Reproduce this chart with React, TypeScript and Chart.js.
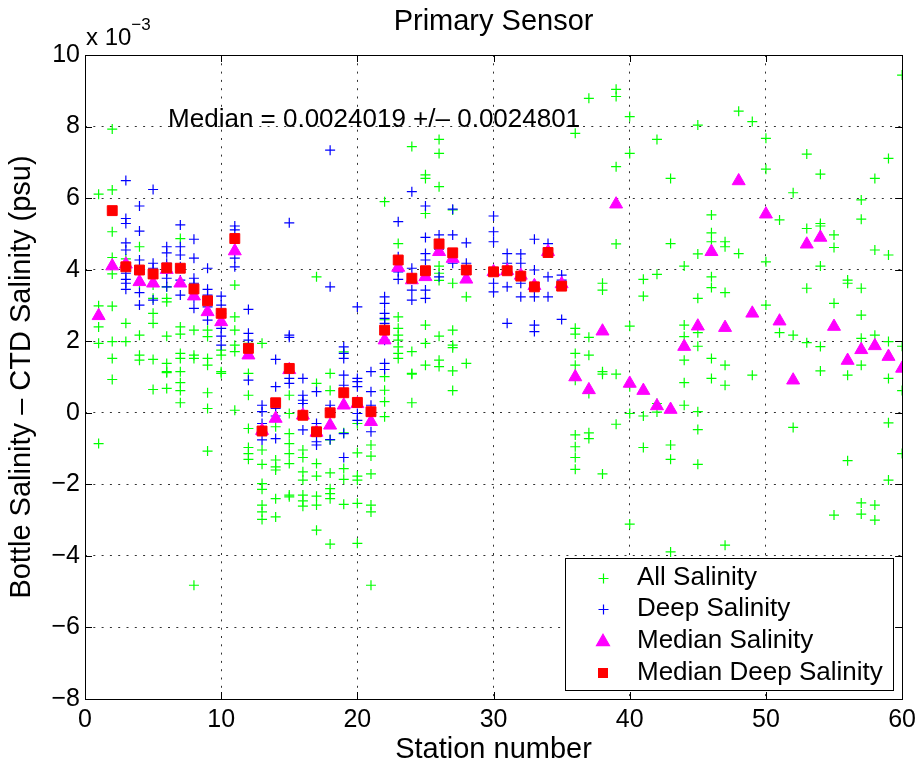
import React, { useEffect, useRef } from 'react';
import { Chart, registerables } from 'chart.js';

Chart.register(...registerables);

const FONT = "'Liberation Sans', Arial, Helvetica, sans-serif";

const TITLE = 'Primary Sensor';
const X_LABEL = 'Station number';
const Y_LABEL = 'Bottle Salinity \u2013 CTD Salinity (psu)';
const MEDIAN_TEXT = 'Median = 0.0024019 +/\u2013 0.0024801';
const EXP_BASE = 'x 10';
const EXP_POWER = '\u22123';
const SERIES_NAMES = ['All Salinity', 'Deep Salinity', 'Median Salinity', 'Median Deep Salinity'];
const X_RANGE = [0, 60];
const Y_RANGE = [-8, 10];
const X_STEP = 10;
const Y_STEP = 2;

// values in units of 1e-3 psu; row index = station number - 1
const allSalinity: number[][] = [
  [6.11, 2.99, 2.4, 1.94, -0.86],
  [7.93, 6.23, 5.06, 4.34, 3.88, 2.98, 1.99, 1.52, 0.93],
  [4.3, 2.5, 1.99],
  [4.64, 3.61, 2.17, 1.61, 1.47],
  [3.57, 3.2, 2.78, 2.5, 1.49, 0.65],
  [3.52, 3.2, 3.1, 2.14, 1.38, 1.15, 1.12, 0.68],
  [4.87, 2.4, 2.2, 1.66, 1.52, 1.15, 0.84, 0.62, 0.28],
  [2.31, 1.61, 1.52, -4.82],
  [2.31, 2.13, 1.52, 1.33, 0.56, 0.12, -1.07],
  [1.75, 1.61, 1.15, 1.1],
  [3.57, 2.68, 2.31, 1.89, 1.71, 0.07],
  [1.94, 1.1, 0.49, -0.44, -0.97, -1.14, -1.3],
  [1.94, -1.04, -1.44, -1.98, -2.14, -2.58, -2.77, -2.98],
  [-0.39, -1.32, -1.51, -1.6, -2.4, -2.91],
  [0.49, -0.02, -0.58, -0.86, -1.14, -1.42, -2.3, -2.35],
  [-1.04, -1.25, -1.65, -1.88, -2.3, -2.46, -2.61],
  [3.8, 0.82, -1.42, -1.77, -2.33, -2.58, -3.28],
  [1.1, 0.62, -0.76, -1.68, -2.12, -2.26, -2.4, -3.67],
  [1.7, -0.56, -1.56, -1.86, -2.56],
  [-0.3, -1.12, -1.77, -1.88, -2.53, -3.65],
  [-0.9, -1.21, -1.71, -2.58, -2.77, -4.82],
  [5.9, 2.6, 1.01, 0.63, 0.31, -0.11],
  [4.73, 2.68, 2.36, 2.17, 2.03, 1.84, 1.66, 1.52],
  [7.44, 1.71, 1.1, 1.08, 0.28],
  [6.65, 6.55, 5.57, 2.45, 1.94, 1.33],
  [7.64, 7.25, 6.32, 4.1, 3.9, 3.7, 2.14, 1.47, 1.29],
  [5.67, 3.62, 2.31, 1.89, 1.82, 1.17, 0.62],
  [3.24, 1.38],
  [],
  [],
  [],
  [],
  [],
  [],
  [],
  [7.81, 2.36, 2.2, 1.66, 1.33, 0.91, -0.62, -0.95, -1.25, -1.58],
  [8.79, 2.11, 1.61, 0.54, -0.56, -0.72],
  [3.62, 3.43, 1.15, 1.08, -1.71],
  [9.04, 8.84, 6.88, 4.72, 1.08, -0.32],
  [8.28, 7.25, 2.42, 0.73, -0.02, -3.11],
  [3.73, 3.26, -0.09, -0.97],
  [7.64, 3.87, 0.26, 0.02],
  [6.55, 4.73, -0.9, -1.3, -3.89],
  [4.1, 2.45, 2.13, 1.47, 0.84, 0.21],
  [8.04, 4.44, 3.2, 2.24, 1.86, 0.03, -0.47, -1.44],
  [5.53, 5.03, 4.78, 3.8, 3.5, 1.52, 0.96],
  [4.78, 4.64, 3.36, 1.33, 0.77, -3.7],
  [8.43, 4.45],
  [8.14, 1.05],
  [7.67, 6.81, 4.22, 3.01],
  [5.39, 2.24],
  [6.15, 2.17, -0.41],
  [7.23, 5.15, 3.48, 1.96],
  [6.67, 5.29, 5.22, 4.1, 1.85, 1.17],
  [4.97, 4.62, 3.06, -2.86],
  [3.71, 3.62, 1.05, -1.34],
  [5.95, 5.41, 3.48, 2.73, 2.08, 1.33, -2.52, -2.83],
  [6.55, 4.55, 2.17, -2.58, -3.0],
  [7.11, 4.41, 1.99, 0.96, -0.28, -1.88],
  [9.44, 1.86, 0.62, -1.14],
];

const deepSalinity: number[][] = [
  [],
  [],
  [6.49, 5.43, 5.29, 4.75, 4.55, 4.18, 3.9, 3.73, 3.62, 3.45],
  [5.78, 5.08, 4.27, 3.92, 3.36, 3.01],
  [6.24, 4.18, 4.04, 3.76, 3.15],
  [4.64, 4.47, 4.18, 3.94, 3.76, 3.52],
  [5.25, 4.64, 4.41, 4.08, 3.71, 3.29],
  [4.85, 4.32, 3.76, 3.62, 3.2, 2.92],
  [4.04, 3.45, 3.29, 2.96, 2.59],
  [3.26, 3.01, 2.78, 2.36, 2.14, 1.89],
  [5.22, 5.11, 4.32, 4.08],
  [2.89, 2.22, 2.03, 0.91],
  [0.21, 0.03, -0.3, -0.76],
  [1.49, 0.73, 0.12, -0.09, -0.72],
  [5.31, 2.17, 2.11, 0.96, 0.82],
  [0.96, 0.49, 0.35, 0.26, -0.48],
  [0.59, -0.3, -0.81, -0.9],
  [7.34, 3.52, 0.21, 0.06, -0.75],
  [1.84, 1.66, 1.52, 1.05, 0.77, -0.58, -1.25],
  [2.96, 0.96, 0.87, 0.73, -0.02, -0.21],
  [1.15, 0.59, 0.21, -0.53],
  [3.24, 3.06, 2.78, 2.64, 2.5, 2.03, 1.38, 1.21],
  [5.34, 4.36, 3.94, 3.73],
  [6.18, 4.04, 3.43, 3.15],
  [5.78, 4.9, 4.45, 4.27, 3.43, 3.2],
  [4.97, 4.57, 3.8],
  [5.69, 4.97, 4.18],
  [4.75, 4.18],
  [],
  [5.5, 5.06, 4.78, 3.62, 3.38],
  [4.45, 4.18, 3.52, 2.5],
  [4.44, 4.18, 3.62, 3.24],
  [4.85, 3.99, 3.24, 2.45, 2.27],
  [4.73, 3.8, 3.24],
  [3.85, 3.71, 2.61],
];

const medianSalinity: (number | null)[] = [
  2.71, 4.1, 4.15, 3.66, 3.62, 4.0, 3.62, 3.26, 2.82, 2.54,
  4.52, 1.61, -0.5, -0.16, 1.2, -0.07, -0.55, -0.35, 0.21, 0.25,
  -0.25, 2.03, 4.06, 3.71, 3.8, 4.5, 4.31, 3.73, null, 3.94,
  3.97, 3.84, 3.55, 4.5, 3.6, 1.0, 0.64, 2.28, 5.83, 0.82,
  0.62, 0.19, 0.09, 1.85, 2.42, 4.5, 2.38, 6.48, 2.78, 5.55,
  2.56, 0.91, 4.71, 4.9, 2.41, 1.46, 1.76, 1.87, 1.57, 1.24,
];

const medianDeepSalinity: (number | null)[] = [
  null, 5.65, 4.08, 3.99, 3.88, 4.05, 4.04, 3.46, 3.13, 2.78,
  4.87, 1.8, -0.51, 0.28, 1.24, -0.07, -0.53, 0.0, 0.56, 0.29,
  0.03, 2.31, 4.27, 3.76, 3.97, 4.72, 4.47, 3.99, null, 3.94,
  3.97, 3.82, 3.52, 4.48, 3.54,
];

const COLORS = ['#00ff00', '#0000ff', '#ff00ff', '#ff0000'];

const toPoints = (rows: number[][]) =>
  rows.flatMap((vals, i) => vals.map((v) => ({ x: i + 1, y: v })));
const toMedianPoints = (vals: (number | null)[]) =>
  vals.flatMap((v, i) => (v == null ? [] : [{ x: i + 1, y: v }]));

const fmt = (v: number) => (v < 0 ? '\u2212' + Math.abs(v) : String(v));

function drawMarker(ctx: CanvasRenderingContext2D, kind: number, x: number, y: number) {
  ctx.save();
  ctx.strokeStyle = COLORS[kind];
  ctx.fillStyle = COLORS[kind];
  ctx.lineWidth = 1.2;
  if (kind < 2) {
    const cx = Math.round(x) + 0.5;
    const cy = Math.round(y) + 0.5;
    ctx.beginPath();
    ctx.moveTo(cx - 5, cy);
    ctx.lineTo(cx + 5, cy);
    ctx.moveTo(cx, cy - 5);
    ctx.lineTo(cx, cy + 5);
    ctx.stroke();
  } else if (kind === 2) {
    const r = 7.5;
    ctx.beginPath();
    ctx.moveTo(x, y - r * 0.75 - 1);
    ctx.lineTo(x + r * 0.866, y + r * 0.75 - 1);
    ctx.lineTo(x - r * 0.866, y + r * 0.75 - 1);
    ctx.closePath();
    ctx.fill();
    ctx.stroke();
  } else {
    ctx.fillRect(Math.round(x) - 5, Math.round(y) - 5, 10, 10);
  }
  ctx.restore();
}

const framePlugin = {
  id: 'frame',
  afterDatasetsDraw(chart: any) {
    const { ctx, chartArea: a, scales } = chart;
    const xs = scales.x;
    const ys = scales.y;
    ctx.save();
    ctx.strokeStyle = '#000';
    ctx.lineWidth = 1;
    ctx.beginPath();
    for (let v = X_RANGE[0]; v <= X_RANGE[1]; v += X_STEP) {
      const px = Math.round(xs.getPixelForValue(v)) + 0.5;
      ctx.moveTo(px, a.bottom);
      ctx.lineTo(px, a.bottom - 7);
      ctx.moveTo(px, a.top);
      ctx.lineTo(px, a.top + 7);
    }
    for (let v = Y_RANGE[0]; v <= Y_RANGE[1]; v += Y_STEP) {
      const py = Math.round(ys.getPixelForValue(v)) + 0.5;
      ctx.moveTo(a.left, py);
      ctx.lineTo(a.left + 7, py);
      ctx.moveTo(a.right, py);
      ctx.lineTo(a.right - 7, py);
    }
    ctx.stroke();
    ctx.strokeRect(Math.round(a.left) + 0.5, Math.round(a.top) + 0.5, Math.round(a.right - a.left), Math.round(a.bottom - a.top));

    // annotation
    ctx.fillStyle = '#000';
    ctx.font = `26px ${FONT}`;
    ctx.textAlign = 'left';
    ctx.textBaseline = 'middle';
    ctx.fillText(MEDIAN_TEXT, xs.getPixelForValue(6.1), ys.getPixelForValue(8.2));

    // exponent label
    ctx.textBaseline = 'alphabetic';
    ctx.font = `24px ${FONT}`;
    ctx.fillText(EXP_BASE, a.left + 1, a.top - 10);
    const w = ctx.measureText(EXP_BASE).width;
    ctx.font = `17px ${FONT}`;
    ctx.fillText(EXP_POWER, a.left + 1 + w, a.top - 25);
    ctx.restore();
  },
  afterDraw(chart: any) {
    const { ctx, chartArea: a } = chart;
    const right = Math.round(a.right) - 9;
    const bottom = Math.round(a.bottom) - 9;
    const width = 328;
    const height = 132;
    const left = right - width;
    const top = bottom - height;
    ctx.save();
    ctx.fillStyle = '#fff';
    ctx.fillRect(left, top, width, height);
    ctx.strokeStyle = '#000';
    ctx.lineWidth = 1;
    ctx.strokeRect(left + 0.5, top + 0.5, width, height);
    ctx.font = `26px ${FONT}`;
    ctx.textAlign = 'left';
    ctx.textBaseline = 'middle';
    SERIES_NAMES.forEach((name, i) => {
      const cy = top + 19.5 + i * 31.7;
      drawMarker(ctx, i, left + 38, cy);
      ctx.fillStyle = '#000';
      ctx.fillText(name, left + 72, cy);
    });
    ctx.restore();
  },
};

export default function App() {
  const ref = useRef<HTMLCanvasElement | null>(null);

  useEffect(() => {
    if (!ref.current) return;
    Chart.defaults.font.family = FONT;
    Chart.defaults.color = '#000';
    const gridDash = [2, 6.3];
    const chart = new Chart(ref.current, {
      type: 'scatter',
      data: {
        datasets: [
          {
            label: SERIES_NAMES[0],
            data: toPoints(allSalinity),
            pointStyle: 'cross',
            pointRadius: 5,
            borderColor: COLORS[0],
            backgroundColor: COLORS[0],
            borderWidth: 1.2,
            order: 4,
          },
          {
            label: SERIES_NAMES[1],
            data: toPoints(deepSalinity),
            pointStyle: 'cross',
            pointRadius: 5,
            borderColor: COLORS[1],
            backgroundColor: COLORS[1],
            borderWidth: 1.2,
            order: 3,
          },
          {
            label: SERIES_NAMES[2],
            data: toMedianPoints(medianSalinity),
            pointStyle: 'triangle',
            pointRadius: 7.5,
            borderColor: COLORS[2],
            backgroundColor: COLORS[2],
            borderWidth: 1,
            order: 2,
          },
          {
            label: SERIES_NAMES[3],
            data: toMedianPoints(medianDeepSalinity),
            pointStyle: 'rect',
            pointRadius: 7,
            borderColor: COLORS[3],
            backgroundColor: COLORS[3],
            borderWidth: 1,
            order: 1,
          },
        ] as any,
      },
      options: {
        responsive: false,
        animation: false,
        devicePixelRatio: 1,
        events: [],
        layout: { padding: { left: 0, right: 19, top: 0, bottom: 0 } },
        plugins: {
          legend: { display: false },
          tooltip: { enabled: false },
          title: {
            display: true,
            text: TITLE,
            fullSize: false,
            color: '#000',
            font: { size: 29, weight: 'normal', family: FONT, lineHeight: 1.2 },
            padding: { top: 5, bottom: 15.2 },
          },
        },
        scales: {
          x: {
            type: 'linear',
            position: 'bottom',
            min: X_RANGE[0],
            max: X_RANGE[1],
            afterFit: (s: any) => {
              s.height = 68;
            },
            ticks: {
              stepSize: X_STEP,
              font: { size: 25, family: FONT },
              color: '#000',
              padding: 6,
              maxRotation: 0,
            },
            grid: { color: 'rgba(0,0,0,0.8)', lineWidth: 1, drawTicks: false },
            border: { display: false, dash: gridDash },
            title: {
              display: true,
              text: X_LABEL,
              color: '#000',
              font: { size: 29, family: FONT, lineHeight: 1.2 },
              padding: { top: 0, bottom: 0 },
            },
          },
          y: {
            type: 'linear',
            min: Y_RANGE[0],
            max: Y_RANGE[1],
            afterFit: (s: any) => {
              s.width = 85;
            },
            ticks: {
              stepSize: Y_STEP,
              font: { size: 25, family: FONT },
              color: '#000',
              padding: 5,
              callback: (v: any) => fmt(Number(v)),
            },
            grid: { color: 'rgba(0,0,0,0.8)', lineWidth: 1, drawTicks: false },
            border: { display: false, dash: gridDash },
            title: {
              display: true,
              text: Y_LABEL,
              color: '#000',
              font: { size: 29, family: FONT, lineHeight: 1.2 },
              padding: { top: 5, bottom: 0 },
            },
          },
        },
      } as any,
      plugins: [framePlugin],
    });
    return () => chart.destroy();
  }, []);

  return (
    <div style={{ position: 'absolute', left: 0, top: 0, width: 922, height: 767, background: '#fff' }}>
      <canvas ref={ref} width={922} height={767} style={{ display: 'block' }} />
    </div>
  );
}
